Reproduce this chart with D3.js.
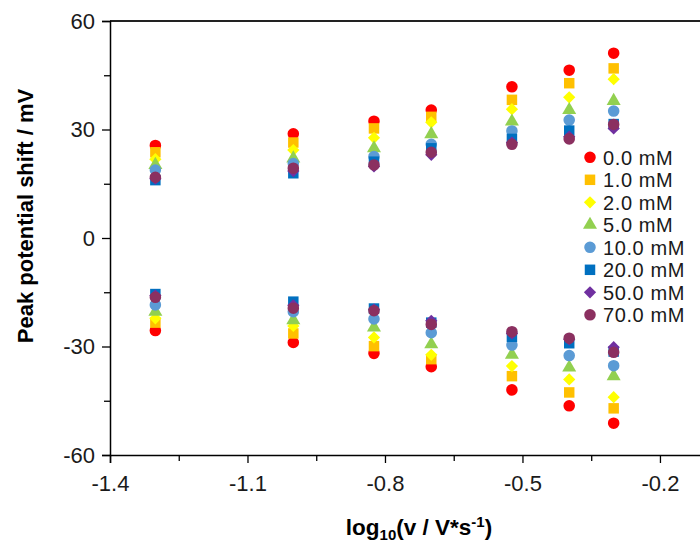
<!DOCTYPE html>
<html>
<head>
<meta charset="utf-8">
<script src="https://cdn.jsdelivr.net/npm/d3@7"></script>
<style>
  body { margin: 0; background: #fff; }
  svg { font-family: "Liberation Sans", Arial, sans-serif; }
</style>
</head>
<body>
<div id="chart"></div>
<script>
var width = 700, height = 546;

// log10 of the scan rates (0.05 ... 0.5 V/s)
var logRates = [-1.301, -1.0, -0.824, -0.699, -0.523, -0.398, -0.301];

var concentrations = ["0.0 mM", "1.0 mM", "2.0 mM", "5.0 mM", "10.0 mM", "20.0 mM", "50.0 mM", "70.0 mM"];

// anodic (positive) peak shifts, one array per concentration
var anodic = [
  [25.6, 28.8, 32.3, 35.4, 41.8, 46.4, 51.1],
  [23.7, 26.4, 30.3, 33.5, 38.2, 42.8, 46.9],
  [21.8, 24.3, 27.7, 32.0, 35.6, 38.9, 43.9],
  [20.2, 22.0, 24.8, 28.7, 32.2, 35.4, 37.9],
  [18.8, 20.6, 22.5, 25.9, 29.6, 32.6, 35.1],
  [16.0, 17.9, 21.1, 24.8, 27.4, 29.7, 31.5],
  [16.4, 18.5, 19.8, 23.0, 26.4, 28.0, 30.3],
  [16.8, 19.3, 20.2, 23.7, 25.9, 27.4, 31.4]
];

// cathodic (negative) peak shifts
var cathodic = [
  [-25.6, -28.9, -31.9, -35.6, -42.0, -46.4, -51.2],
  [-23.4, -26.4, -29.9, -33.5, -38.2, -42.7, -47.1],
  [-22.2, -24.3, -27.5, -32.3, -35.4, -39.1, -44.0],
  [-20.4, -22.7, -24.7, -29.4, -32.3, -35.8, -38.2],
  [-18.5, -20.4, -22.4, -26.2, -29.6, -32.5, -35.3],
  [-15.5, -17.6, -19.5, -23.4, -27.3, -29.1, -31.4],
  [-15.9, -18.6, -19.8, -22.9, -26.4, -28.0, -30.2],
  [-16.4, -19.4, -20.1, -23.9, -25.9, -27.7, -31.6]
];

var xTicks = [-1.4, -1.1, -0.8, -0.5, -0.2];
var xMinor = [-1.25, -0.95, -0.65, -0.35, -0.05];
var yTicks = [-60, -30, 0, 30, 60];
var yMinor = [-45, -15, 15, 45];

var colors = ["#ff0000", "#ffc000", "#ffff00", "#92d050", "#5b9bd5", "#0070c0", "#7030a0", "#8b3060"];

// diamond drawn as a square turned by 45 degrees
var diamond = {
  draw: function (ctx, size) {
    var r = Math.sqrt(size / 2);
    ctx.moveTo(0, -r);
    ctx.lineTo(r, 0);
    ctx.lineTo(0, r);
    ctx.lineTo(-r, 0);
    ctx.closePath();
  }
};
var shapes = [d3.symbolCircle, d3.symbolSquare, diamond, d3.symbolTriangle,
              d3.symbolCircle, d3.symbolSquare, diamond, d3.symbolCircle];
var sizes = [105, 110, 75, 85, 105, 110, 75, 105];

var x = d3.scaleLinear().domain([-1.4, -0.05]).range([110, 728.7]);
var y = d3.scaleLinear().domain([-60, 60]).range([455, 21]);

var fmtX = function (d) { return d3.format(".1f")(d).replace("\u2212", "-"); };
var fmtY = function (d) { return String(d); };

var svg = d3.select("#chart").append("svg")
    .attr("width", width)
    .attr("height", height);

// points
concentrations.forEach(function (c, i) {
  var pts = [];
  logRates.forEach(function (r, j) {
    pts.push({x: r, y: anodic[i][j]});
    pts.push({x: r, y: cathodic[i][j]});
  });
  svg.append("g").selectAll("path")
    .data(pts)
    .enter().append("path")
    .attr("transform", function (d) { return "translate(" + x(d.x) + "," + y(d.y) + ")"; })
    .attr("d", d3.symbol().type(shapes[i]).size(sizes[i]))
    .attr("fill", colors[i]);
});

// top frame line
svg.append("line")
    .attr("x1", x(-1.4)).attr("x2", width)
    .attr("y1", y(60)).attr("y2", y(60))
    .attr("stroke", "#222").attr("stroke-width", 2);

// x axis
svg.append("g")
    .attr("transform", "translate(0," + y(-60) + ")")
    .call(d3.axisBottom(x).tickValues(xTicks).tickSize(8).tickPadding(12).tickFormat(fmtX));
svg.append("g")
    .attr("transform", "translate(0," + y(-60) + ")")
    .call(d3.axisBottom(x).tickValues(xMinor).tickSize(6).tickFormat(""))
    .select(".domain").remove();

// y axis
svg.append("g")
    .attr("transform", "translate(" + x(-1.4) + ",0)")
    .call(d3.axisLeft(y).tickValues(yTicks).tickSize(8).tickPadding(7).tickFormat(fmtY));
svg.append("g")
    .attr("transform", "translate(" + x(-1.4) + ",0)")
    .call(d3.axisLeft(y).tickValues(yMinor).tickSize(6).tickFormat(""))
    .select(".domain").remove();

svg.selectAll(".domain").attr("stroke", "#000").attr("stroke-width", 1.5);
svg.selectAll(".tick line").attr("stroke", "#000").attr("stroke-width", 1.3);
svg.selectAll(".tick text")
    .attr("font-family", "'Liberation Sans', Arial, sans-serif")
    .attr("font-size", 22)
    .attr("fill", "#1a1a1a");

// axis titles
svg.append("text")
    .attr("transform", "translate(33,216) rotate(-90)")
    .attr("text-anchor", "middle")
    .attr("font-size", 22)
    .attr("font-weight", "bold")
    .text("Peak potential shift / mV");

var xt = svg.append("text")
    .attr("x", 419).attr("y", 535)
    .attr("text-anchor", "middle")
    .attr("font-size", 22.5)
    .attr("font-weight", "bold");
xt.append("tspan").text("log");
xt.append("tspan").attr("font-size", 15).attr("dy", 5).text("10");
xt.append("tspan").attr("dy", -5).text("(v / V*s");
xt.append("tspan").attr("font-size", 15).attr("dy", -8).text("-1");
xt.append("tspan").attr("dy", 8).text(")");

// legend
var legend = svg.selectAll(".legend")
    .data(concentrations)
    .enter().append("g")
    .attr("class", "legend")
    .attr("transform", function (d, i) { return "translate(590," + (157.3 + i * 22.5) + ")"; });

legend.append("path")
    .attr("d", function (d, i) { return d3.symbol().type(shapes[i]).size(sizes[i])(); })
    .attr("fill", function (d, i) { return colors[i]; });

legend.append("text")
    .attr("x", 13)
    .attr("dy", "0.36em")
    .attr("font-size", 20)
    .attr("letter-spacing", 0.6)
    .attr("fill", "#1a1a1a")
    .text(function (d) { return d; });
</script>
</body>
</html>
